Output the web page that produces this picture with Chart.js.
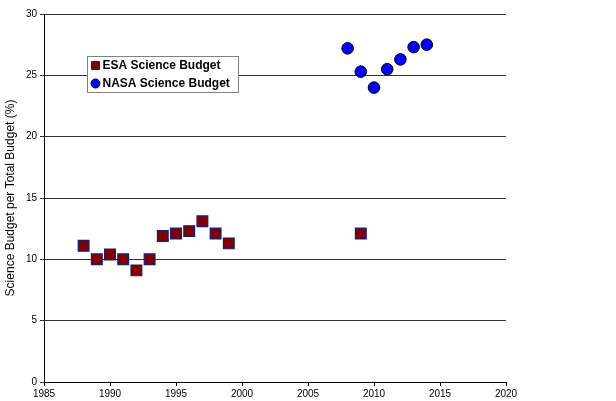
<!DOCTYPE html>
<html>
<head>
<meta charset="utf-8">
<script src="https://cdn.jsdelivr.net/npm/chart.js@4"></script>
<style>
  html, body { margin: 0; padding: 0; background: #fff; }
  #wrap { width: 616px; height: 401px; }
</style>
</head>
<body>
<div id="wrap"><canvas id="budgetChart" width="616" height="401"></canvas></div>
<script>
const esaYears = [1988, 1989, 1990, 1991, 1992, 1993, 1994, 1995, 1996, 1997, 1998, 1999, 2009];
const esaValues = [11.1, 10.0, 10.4, 10.0, 9.1, 10.0, 11.9, 12.1, 12.3, 13.1, 12.1, 11.3, 12.1];
const nasaYears = [2008, 2009, 2010, 2011, 2012, 2013, 2014];
const nasaValues = [27.2, 25.3, 24.0, 25.5, 26.3, 27.3, 27.5];
const seriesNames = ['ESA Science Budget', 'NASA Science Budget'];
const yTitle = 'Science Budget per Total Budget (%)';

const toPoints = (xs, ys) => xs.map((x, i) => ({ x: x, y: ys[i] }));

// legend box drawn in the upper-left of the plot, like the original
const boxLegend = {
  id: 'boxLegend',
  afterDraw(chart) {
    const c = chart.ctx;
    c.save();
    c.fillStyle = '#fff';
    c.fillRect(87.5, 56.5, 151, 36);
    c.strokeStyle = '#808080';
    c.lineWidth = 1;
    c.strokeRect(87.5, 56.5, 151, 36);
    c.font = 'bold 12px "Liberation Sans", Arial, sans-serif';
    c.textBaseline = 'middle';
    chart.data.datasets.forEach((ds, i) => {
      const y = 65.5 + i * 18;
      c.fillStyle = ds.backgroundColor;
      c.strokeStyle = ds.borderColor;
      c.beginPath();
      if (ds.pointStyle === 'rect') {
        c.rect(91.5, y - 4, 8, 8);
      } else {
        c.arc(95.5, y, 4.5, 0, Math.PI * 2);
      }
      c.fill();
      c.stroke();
      c.fillStyle = '#000';
      c.fillText(ds.label, 102.5, y + 0.5);
    });
    c.restore();
  }
};

const ctx = document.getElementById('budgetChart').getContext('2d');
new Chart(ctx, {
  type: 'scatter',
  data: {
    datasets: [
      {
        label: seriesNames[0],
        data: toPoints(esaYears, esaValues),
        pointStyle: 'rect',
        pointRadius: 7.6,
        backgroundColor: '#800000',
        borderColor: '#1a1a80',
        borderWidth: 1.2
      },
      {
        label: seriesNames[1],
        data: toPoints(nasaYears, nasaValues),
        pointStyle: 'circle',
        pointRadius: 5.8,
        backgroundColor: '#0000ff',
        borderColor: '#000000',
        borderWidth: 1
      }
    ]
  },
  options: {
    responsive: false,
    animation: false,
    layout: { padding: { top: 14, right: 110, left: 0, bottom: 0 } },
    plugins: { legend: { display: false }, tooltip: { enabled: false } },
    scales: {
      x: {
        type: 'linear',
        min: 1985,
        max: 2020,
        afterFit: s => { s.height = 19; },
        ticks: {
          stepSize: 5,
          color: '#000',
          padding: 2,
          font: { family: '"Liberation Sans", Arial, sans-serif', size: 10 },
          callback: v => String(v)
        },
        grid: { drawOnChartArea: false, tickLength: 4, color: '#000' },
        border: { color: '#000', width: 1 }
      },
      y: {
        min: 0,
        max: 30,
        afterFit: s => { s.width = 44; },
        ticks: {
          stepSize: 5,
          color: '#000',
          padding: 3,
          font: { family: '"Liberation Sans", Arial, sans-serif', size: 10 }
        },
        grid: { color: '#333', tickLength: 4, lineWidth: 1 },
        border: { color: '#000', width: 1 },
        title: {
          display: true,
          text: yTitle,
          color: '#000',
          padding: { top: 3, bottom: 0 },
          font: { family: '"Liberation Sans", Arial, sans-serif', size: 12 }
        }
      }
    }
  },
  plugins: [boxLegend]
});
</script>
</body>
</html>
